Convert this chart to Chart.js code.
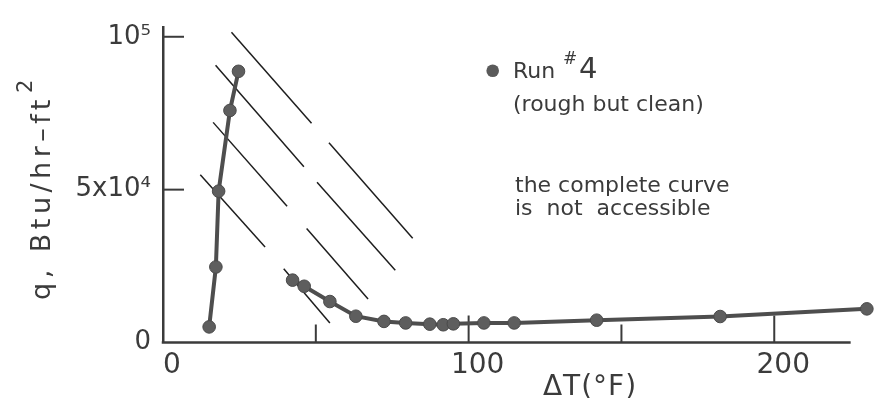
<!DOCTYPE html>
<html>
<head>
<meta charset="utf-8">
<script src="https://cdn.jsdelivr.net/npm/chart.js@4.4.1/dist/chart.umd.min.js"></script>
<style>
  html, body { margin: 0; padding: 0; background: #ffffff; }
  #wrap { width: 878px; height: 398px; }
</style>
</head>
<body>
<div id="wrap"><canvas id="c" width="878" height="398"></canvas></div>
<script>
// ---- data ----
const leftDT   = [15.1, 17.3, 18.2, 21.9, 24.7];
const leftQ    = [5100, 24700, 49500, 75900, 88700];
const rightDT  = [42.4, 46.2, 54.6, 63.1, 72.3, 79.4, 87.3, 91.7, 95.0, 105.0, 114.9, 141.9, 182.3, 230.3];
const rightQ   = [20400, 18400, 13400, 8600, 6900, 6400, 6000, 5800, 6100, 6400, 6400, 7300, 8500, 11000];
// diagonal reference lines: [x1, y1, x2, y2]
const hatchLines = [
  [22.4, 101500, 48.6, 71700],
  [17.2, 90700, 46.1, 57500],
  [16.4, 72000, 40.6, 44600],
  [12.2, 54900, 33.4, 31200],
  [54.3, 65300, 81.7, 34100],
  [50.4, 52400, 76.0, 23600],
  [47.0, 37300, 67.1, 14200],
  [39.5, 24100, 54.6, 6400]
];
const xTickValues = [0, 50, 100, 150, 200];
const xTickLabels = {0: '0', 100: '100', 200: '200'};
const xMajorTicks = [100, 200];
const xAxisEnd = 225;
const yTickValues = [0, 50000, 100000];
const yTickLabels = {0: '0', 50000: '5x10\u2074', 100000: '10\u2075'};
const yTickMarks  = [50000, 100000];

const INK = '#3b3b3b';
const FONT = '"DejaVu Sans", sans-serif';

const toPts = (xs, ys) => xs.map((x, i) => ({x: x, y: ys[i]}));

const curveStyle = {
  borderColor: '#4e4e4e',
  borderWidth: 4,
  pointRadius: 6.3,
  pointBackgroundColor: '#5e5e5e',
  pointBorderColor: '#4a4a4a',
  pointBorderWidth: 1,
  tension: 0,
  clip: false,
  order: 0
};

const datasets = [
  Object.assign({label: 'Run #4 (low)', data: toPts(leftDT, leftQ)}, curveStyle),
  Object.assign({label: 'Run #4 (high)', data: toPts(rightDT, rightQ)}, curveStyle)
];
hatchLines.forEach((h, i) => {
  datasets.push({
    label: 'ref' + i,
    data: [{x: h[0], y: h[1]}, {x: h[2], y: h[3]}],
    borderColor: '#1e1e1e',
    borderWidth: 1.5,
    pointRadius: 0,
    tension: 0,
    clip: false,
    order: 1
  });
});

const decor = {
  id: 'decor',
  beforeDatasetsDraw(chart) {
    const ctx = chart.ctx;
    const xs = chart.scales.x, ys = chart.scales.y;
    const bottom = chart.chartArea.bottom, left = chart.chartArea.left;
    ctx.save();
    ctx.strokeStyle = INK;
    // x axis line (ends at xAxisEnd)
    ctx.lineWidth = 2.5;
    ctx.beginPath();
    ctx.moveTo(left - 1.25, bottom);
    ctx.lineTo(xs.getPixelForValue(xAxisEnd), bottom);
    ctx.stroke();
    ctx.lineWidth = 2;
    xTickValues.forEach(v => {
      if (v === 0) return;
      const px = xs.getPixelForValue(v);
      const len = xMajorTicks.includes(v) ? 27 : 18;
      ctx.beginPath(); ctx.moveTo(px, bottom); ctx.lineTo(px, bottom - len); ctx.stroke();
    });
    yTickMarks.forEach(v => {
      const py = ys.getPixelForValue(v);
      ctx.beginPath(); ctx.moveTo(left, py); ctx.lineTo(left + 21, py); ctx.stroke();
    });
    ctx.restore();
  },
  afterDraw(chart) {
    const ctx = chart.ctx;
    ctx.save();
    ctx.fillStyle = INK;
    ctx.textAlign = 'left';
    ctx.textBaseline = 'alphabetic';
    // legend marker
    ctx.beginPath(); ctx.arc(492.7, 70.7, 6.3, 0, Math.PI * 2);
    ctx.fillStyle = '#5a5a5a'; ctx.fill();
    ctx.fillStyle = INK;
    ctx.font = '22px ' + FONT;
    ctx.fillText('Run', 513, 78);
    ctx.font = '17px ' + FONT;
    ctx.fillText('#', 563, 64);
    ctx.font = '29px ' + FONT;
    ctx.fillText('4', 579, 78);
    ctx.font = '22px ' + FONT;
    ctx.fillText('(rough but clean)', 513, 111);
    ctx.fillText('the complete curve', 515, 192);
    try { ctx.wordSpacing = '7px'; } catch (e) {}
    ctx.fillText('is not accessible', 515, 215);
    try { ctx.wordSpacing = '0px'; } catch (e) {}
    // x-axis title
    ctx.font = '28px ' + FONT;
    try { ctx.letterSpacing = '1px'; } catch (e) {}
    ctx.textAlign = 'center';
    ctx.fillText('\u0394T(\u00B0F)', 590, 395);
    // y-axis title (rotated)
    ctx.textAlign = 'left';
    ctx.translate(50, 300);
    ctx.rotate(-Math.PI / 2);
    ctx.font = '27px ' + FONT;
    try { ctx.letterSpacing = '4.5px'; } catch (e) {}
    const t = 'q, Btu/hr\u2013ft';
    ctx.fillText(t, 0, 0);
    const w = ctx.measureText(t).width;
    ctx.font = '21px ' + FONT;
    try { ctx.letterSpacing = '0px'; } catch (e) {}
    ctx.fillText('2', w + 2, -18);
    ctx.restore();
  }
};

new Chart(document.getElementById('c'), {
  type: 'line',
  data: { datasets: datasets },
  options: {
    responsive: false,
    animation: false,
    devicePixelRatio: 1,
    layout: { padding: { top: 23, right: 9, left: 0, bottom: 0 } },
    plugins: { legend: { display: false }, tooltip: { enabled: false } },
    scales: {
      x: {
        type: 'linear',
        min: 0, max: 231,
        grid: { display: false, drawTicks: false },
        border: { display: false },
        afterBuildTicks: s => { s.ticks = xTickValues.map(v => ({value: v})); },
        afterFit: s => { s.height = 55.5; },
        ticks: {
          autoSkip: false,
          maxRotation: 0,
          padding: 6,
          labelOffset: 9,
          color: INK,
          font: { family: FONT, size: 28 },
          callback: v => (xTickLabels[v] !== undefined ? xTickLabels[v] : '')
        }
      },
      y: {
        type: 'linear',
        min: 0, max: 103000,
        grid: { display: false, drawTicks: false },
        border: { display: true, color: INK, width: 2.5 },
        afterBuildTicks: s => { s.ticks = yTickValues.map(v => ({value: v})); },
        afterFit: s => { s.width = 163; },
        ticks: {
          autoSkip: false,
          padding: 12,
          color: INK,
          font: { family: FONT, size: 26 },
          callback: v => (yTickLabels[v] !== undefined ? yTickLabels[v] : '')
        }
      }
    }
  },
  plugins: [decor]
});
</script>
</body>
</html>
